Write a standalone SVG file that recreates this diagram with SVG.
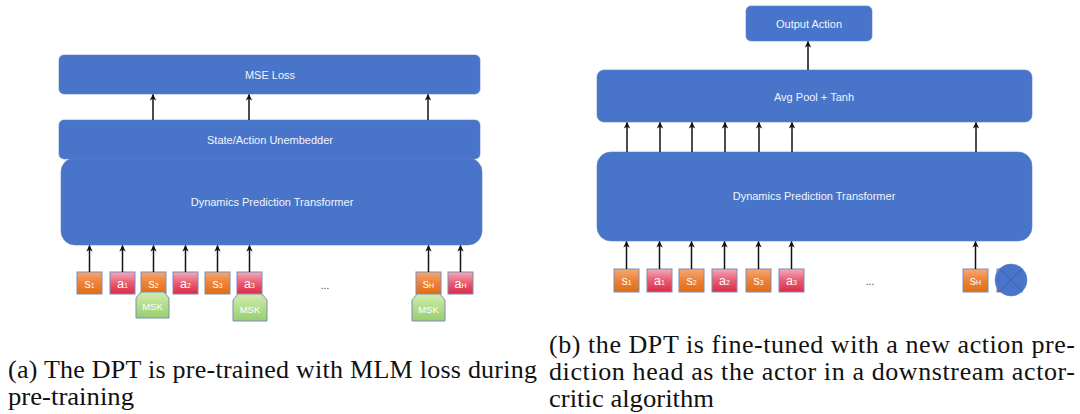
<svg xmlns="http://www.w3.org/2000/svg" width="1080" height="414" viewBox="0 0 1080 414">
<defs>
<linearGradient id="gOr" x1="0" y1="0" x2="0" y2="1"><stop offset="0" stop-color="#f5a872"/><stop offset="0.5" stop-color="#ec8236"/><stop offset="1" stop-color="#e06d15"/></linearGradient>
<linearGradient id="gRd" x1="0" y1="0" x2="0" y2="1"><stop offset="0" stop-color="#f3a9b8"/><stop offset="0.5" stop-color="#e85c73"/><stop offset="1" stop-color="#dc2a46"/></linearGradient>
<linearGradient id="gGr" x1="0" y1="0" x2="0" y2="1"><stop offset="0" stop-color="#d2ebae"/><stop offset="1" stop-color="#96cf6f"/></linearGradient>
<marker id="arr" markerWidth="8" markerHeight="8" refX="6" refY="4" orient="auto" markerUnits="userSpaceOnUse">
<path d="M0,0.8 L6.5,4 L0,7.2 L1.8,4 Z" fill="#111"/>
</marker>
</defs>
<style>
.blk{fill:#4874c9;stroke:#5a80c8;stroke-width:0.6}
.bl{font-family:"Liberation Sans",Arial,sans-serif;font-size:11px;fill:#f2f5fb;text-anchor:middle;dominant-baseline:central}
.or{fill:url(#gOr);stroke:#7d8cb8;stroke-width:1}
.rd{fill:url(#gRd);stroke:#7d8cb8;stroke-width:1}
.msk{fill:url(#gGr);stroke:#7d8cb8;stroke-width:1}
.tk{font-family:"Liberation Sans",Arial,sans-serif;font-size:12.5px;fill:#ffffff;text-anchor:middle}
.sub{font-size:7px}
.mt{font-family:"Liberation Sans",Arial,sans-serif;font-size:9.5px;fill:#ffffff;text-anchor:middle;dominant-baseline:central}
.con line{stroke:#111;stroke-width:1.5;marker-end:url(#arr)}
.dots{font-family:"Liberation Sans",Arial,sans-serif;font-size:10px;fill:#333;text-anchor:middle}
.cap{font-family:"Liberation Serif","Times New Roman",serif;font-size:26px;fill:#111}
</style>

<!-- Left panel -->
<g id="mse-loss"><rect class="blk" x="59" y="55" width="421" height="39" rx="5"/><text class="bl" x="270" y="75">MSE Loss</text></g>
<g id="unembedder"><rect class="blk" x="59" y="120" width="421" height="39" rx="5"/><text class="bl" x="270" y="140">State/Action Unembedder</text></g>
<g id="dpt-a"><rect class="blk" x="61" y="158" width="421" height="87" rx="14"/><text class="bl" x="272" y="202">Dynamics Prediction Transformer</text></g>

<g id="tok-a-s1"><rect class="or" x="77" y="272" width="25" height="22"/><text class="tk" x="89.5" y="287.5">s<tspan class="sub">1</tspan></text></g>
<g id="tok-a-a1"><rect class="rd" x="110" y="272" width="25" height="22"/><text class="tk" x="122.5" y="287.5">a<tspan class="sub">1</tspan></text></g>
<g id="tok-a-s2"><rect class="or" x="141" y="272" width="25" height="22"/><text class="tk" x="153.5" y="287.5">s<tspan class="sub">2</tspan></text></g>
<g id="tok-a-a2"><rect class="rd" x="173" y="272" width="25" height="22"/><text class="tk" x="185.5" y="287.5">a<tspan class="sub">2</tspan></text></g>
<g id="tok-a-s3"><rect class="or" x="205" y="272" width="25" height="22"/><text class="tk" x="217.5" y="287.5">s<tspan class="sub">3</tspan></text></g>
<g id="tok-a-a3"><rect class="rd" x="237" y="272" width="25" height="22"/><text class="tk" x="249.5" y="287.5">a<tspan class="sub">3</tspan></text></g>
<g id="tok-a-sH"><rect class="or" x="416" y="272" width="25" height="22"/><text class="tk" x="428.5" y="287.5">s<tspan class="sub">H</tspan></text></g>
<g id="tok-a-aH"><rect class="rd" x="448" y="272" width="25" height="22"/><text class="tk" x="460.5" y="287.5">a<tspan class="sub">H</tspan></text></g>
<text class="dots" x="325" y="289">...</text>

<g id="msk-1"><path class="msk" d="M141,292 L164,292 L169,298 L169,318 L136,318 L136,298 Z"/><text class="mt" x="152.5" y="306">MSK</text></g>
<g id="msk-2"><path class="msk" d="M238,294 L262,294 L267,300 L267,321 L233,321 L233,300 Z"/><text class="mt" x="250" y="309">MSK</text></g>
<g id="msk-3"><path class="msk" d="M417,294 L440,294 L445,300 L445,321 L412,321 L412,300 Z"/><text class="mt" x="428.5" y="309">MSK</text></g>

<!-- Right panel -->
<g id="output-action"><rect class="blk" x="746" y="6" width="126" height="35" rx="5"/><text class="bl" x="809" y="23.5">Output Action</text></g>
<g id="avg-pool"><rect class="blk" x="597" y="70" width="435" height="52" rx="7"/><text class="bl" x="814" y="97">Avg Pool + Tanh</text></g>
<g id="dpt-b"><rect class="blk" x="597" y="152" width="435" height="89" rx="14"/><text class="bl" x="814" y="196">Dynamics Prediction Transformer</text></g>

<g id="tok-b-s1"><rect class="or" x="614" y="269" width="25" height="23"/><text class="tk" x="626.5" y="285">s<tspan class="sub">1</tspan></text></g>
<g id="tok-b-a1"><rect class="rd" x="647" y="269" width="25" height="23"/><text class="tk" x="659.5" y="285">a<tspan class="sub">1</tspan></text></g>
<g id="tok-b-s2"><rect class="or" x="679" y="269" width="25" height="23"/><text class="tk" x="691.5" y="285">s<tspan class="sub">2</tspan></text></g>
<g id="tok-b-a2"><rect class="rd" x="712" y="269" width="25" height="23"/><text class="tk" x="724.5" y="285">a<tspan class="sub">2</tspan></text></g>
<g id="tok-b-s3"><rect class="or" x="746" y="269" width="25" height="23"/><text class="tk" x="758.5" y="285">s<tspan class="sub">3</tspan></text></g>
<g id="tok-b-a3"><rect class="rd" x="779" y="269" width="25" height="23"/><text class="tk" x="791.5" y="285">a<tspan class="sub">3</tspan></text></g>
<g id="tok-b-sH"><rect class="or" x="963" y="269" width="25" height="23"/><text class="tk" x="975.5" y="285">s<tspan class="sub">H</tspan></text></g>
<g id="tok-b-aH-masked"><rect class="rd" x="997" y="269" width="25" height="23"/><circle cx="1011" cy="280" r="16" fill="#4874c9" stroke="#5a80c8" stroke-width="0.6"/><path d="M999.7,268.7 L1022.3,291.3 M1022.3,268.7 L999.7,291.3" stroke="#3a5fa8" stroke-width="0.8"/></g>
<text class="dots" x="870" y="285">...</text>

<!-- Connectors -->
<g id="connectors" class="con">
<line x1="153" y1="120" x2="153" y2="94.5"/>
<line x1="249" y1="120" x2="249" y2="94.5"/>
<line x1="428" y1="120" x2="428" y2="94.5"/>
<line x1="89.5" y1="272" x2="89.5" y2="245.5"/>
<line x1="122.5" y1="272" x2="122.5" y2="245.5"/>
<line x1="153.5" y1="272" x2="153.5" y2="245.5"/>
<line x1="185.5" y1="272" x2="185.5" y2="245.5"/>
<line x1="217.5" y1="272" x2="217.5" y2="245.5"/>
<line x1="249.5" y1="272" x2="249.5" y2="245.5"/>
<line x1="428.5" y1="272" x2="428.5" y2="245.5"/>
<line x1="460.5" y1="272" x2="460.5" y2="245.5"/>
<line x1="808" y1="70" x2="808" y2="41.5"/>
<line x1="627" y1="152" x2="627" y2="122.5"/>
<line x1="660" y1="152" x2="660" y2="122.5"/>
<line x1="692" y1="152" x2="692" y2="122.5"/>
<line x1="725" y1="152" x2="725" y2="122.5"/>
<line x1="759" y1="152" x2="759" y2="122.5"/>
<line x1="792" y1="152" x2="792" y2="122.5"/>
<line x1="976" y1="152" x2="976" y2="122.5"/>
<line x1="626.5" y1="269" x2="626.5" y2="241.5"/>
<line x1="659.5" y1="269" x2="659.5" y2="241.5"/>
<line x1="691.5" y1="269" x2="691.5" y2="241.5"/>
<line x1="724.5" y1="269" x2="724.5" y2="241.5"/>
<line x1="758.5" y1="269" x2="758.5" y2="241.5"/>
<line x1="791.5" y1="269" x2="791.5" y2="241.5"/>
<line x1="975.5" y1="269" x2="975.5" y2="241.5"/>
</g>

<!-- Captions -->
<text class="cap" x="8" y="378" textLength="529" lengthAdjust="spacing">(a) The DPT is pre-trained with MLM loss during</text>
<text class="cap" x="8" y="405" textLength="126" lengthAdjust="spacingAndGlyphs">pre-training</text>
<text class="cap" x="549" y="353" textLength="526" lengthAdjust="spacing">(b) the DPT is fine-tuned with a new action pre-</text>
<text class="cap" x="549" y="380" textLength="526" lengthAdjust="spacing">diction head as the actor in a downstream actor-</text>
<text class="cap" x="549" y="407" textLength="165" lengthAdjust="spacingAndGlyphs">critic algorithm</text>
</svg>
